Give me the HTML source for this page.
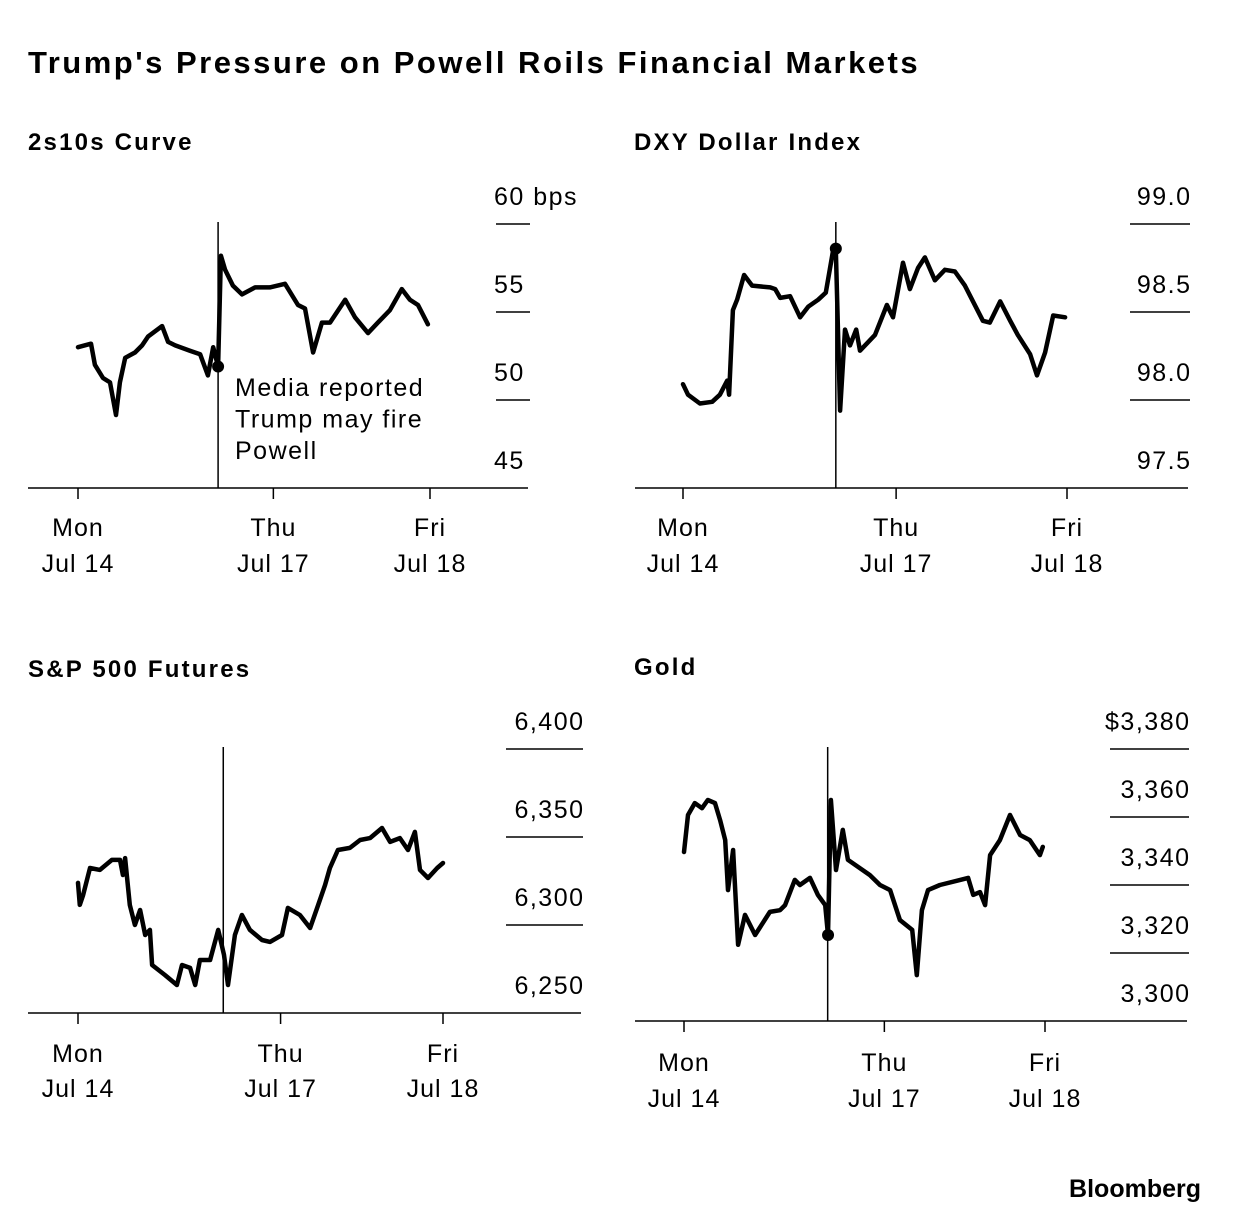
<!DOCTYPE html>
<html><head><meta charset="utf-8"><style>
html,body{margin:0;padding:0;background:#fff;}
svg{display:block;font-family:"Liberation Sans",Arial,sans-serif;}
</style></head><body>
<svg id="chart" width="1240" height="1232" viewBox="0 0 1240 1232" xmlns="http://www.w3.org/2000/svg">
<text x="28" y="73" font-size="31" font-weight="bold" letter-spacing="2.5" fill="#000">Trump's Pressure on Powell Roils Financial Markets</text>
<text x="1201" y="1197" font-size="25" font-weight="bold" text-anchor="end" fill="#000">Bloomberg</text>
</svg>
<script>
// Shared time axis: 0 = Mon Jul 14 tick, 100 = Fri Jul 18 tick
const dayLabels = ["Mon", "Thu", "Fri"];
const dateLabels = ["Jul 14", "Jul 17", "Jul 18"];
const dayTimes = [0, 55.5, 100];
const eventTime = 39.8;

const curveT = [0,3.7,4.8,7.1,9.1,10.8,11.9,13.4,16.2,18.2,19.9,23.9,25.6,27.6,31.8,34.7,36.9,38.4,39.8,40.6,41.8,44.0,46.6,50.3,54.5,58.8,62.5,64.5,66.8,69.3,71.6,75.9,78.7,82.4,85.2,88.6,92.0,94.3,96.6,99.4];
const curveV = [53.0,53.2,52.0,51.25,51.0,49.15,51.0,52.4,52.7,53.1,53.6,54.2,53.3,53.1,52.8,52.6,51.4,53.0,51.9,58.2,57.4,56.5,56.0,56.4,56.4,56.6,55.4,55.2,52.7,54.4,54.4,55.7,54.7,53.8,54.4,55.1,56.3,55.7,55.4,54.3];
const curveTicks = [60,55,50,45];
const curveTickLabels = ["60 bps","55","50","45"];

const dxyT = [0,1.3,4.4,7.6,9.6,11.5,12.0,13.0,14.1,15.9,18.0,22.7,24.0,25.3,27.9,30.5,32.6,35.2,37.2,39.1,39.8,40.9,42.2,43.5,45.1,46.1,50.0,53.1,54.7,57.3,59.1,61.2,63.0,65.6,68.2,70.8,73.4,78.1,79.9,82.6,85.2,87.2,90.4,92.2,94.3,96.4,99.5];
const dxyV = [98.09,98.03,97.98,97.99,98.03,98.11,98.03,98.51,98.57,98.71,98.65,98.64,98.63,98.58,98.59,98.47,98.53,98.57,98.61,98.85,98.86,97.94,98.40,98.31,98.40,98.28,98.37,98.54,98.47,98.78,98.63,98.75,98.81,98.68,98.74,98.73,98.65,98.45,98.44,98.56,98.45,98.37,98.26,98.14,98.27,98.48,98.47];
const dxyTicks = [99.0,98.5,98.0,97.5];
const dxyTickLabels = ["99.0","98.5","98.0","97.5"];

const spxT = [0,0.5,1.4,3.3,6.0,9.3,11.5,12.3,12.9,14.2,15.6,17.0,18.4,19.7,20.3,23.8,27.1,28.5,30.7,32.1,33.4,36.2,38.4,40.0,41.1,43.0,44.9,47.1,50.4,52.6,55.9,57.5,60.8,63.6,65.8,67.7,69.0,71.2,74.5,77.3,80.0,83.3,85.5,88.2,90.4,92.3,93.7,95.9,98.4,100];
const spxV = [6323.9,6311.4,6317,6332.4,6331.3,6337,6337,6328.4,6338,6311.4,6300,6308.5,6294.3,6297.2,6277.3,6271.6,6265.9,6277.3,6275.6,6265.9,6280.1,6280.1,6297.2,6283,6265.9,6294.3,6305.7,6297.2,6291.5,6290.4,6294.3,6309.7,6305.7,6298.3,6311.4,6322.8,6332.4,6342.6,6343.8,6348.3,6349.4,6355.1,6347.2,6349.4,6342.6,6352.9,6331.3,6326.7,6332.4,6335.2];
const spxTicks = [6400,6350,6300,6250];
const spxTickLabels = ["6,400","6,350","6,300","6,250"];

const goldT = [0,1.1,3.0,5.0,6.6,8.6,10.0,11.4,12.2,13.6,15.0,16.9,19.7,23.8,26.6,28.0,30.7,32.1,34.9,37.1,39.1,39.9,40.7,42.1,44.0,45.4,51.5,54.3,57.1,59.8,63.2,64.5,65.9,67.6,70.9,76.5,78.7,80.1,82.0,83.4,84.8,87.5,90.3,93.1,95.8,98.6,99.4];
const goldV = [3349.7,3360.6,3364.1,3362.6,3365,3364.1,3359.1,3353.2,3338.5,3350.3,3322.4,3331.2,3325.3,3332.1,3332.6,3334.1,3341.5,3340,3342.1,3337.1,3334.1,3325.3,3365,3344.4,3356.2,3347.4,3342.9,3340,3338.5,3329.7,3326.8,3313.5,3332.6,3338.5,3340,3341.5,3342.1,3337.1,3337.9,3334.1,3348.8,3353.2,3360.6,3354.7,3353.2,3348.8,3351.2];
const goldTicks = [3380,3360,3340,3320,3300];
const goldTickLabels = ["$3,380","3,360","3,340","3,320","3,300"];

const NS = "http://www.w3.org/2000/svg";
const svg = document.getElementById("chart");
function mk(tag, attrs, parent, text) {
  const e = document.createElementNS(NS, tag);
  for (const k in attrs) e.setAttribute(k, attrs[k]);
  if (text !== undefined) e.textContent = text;
  (parent || svg).appendChild(e);
  return e;
}

const panels = [
  {key:"curve", title:"2s10s Curve", tx:28, ty:150, ax0:28, ax1:528, axisY:488, mon:78, fri:430,
   top:224, vTop:60, vBot:45, ts:curveT, vs:curveV, ticks:curveTicks, tl:curveTickLabels,
   gx0:496, gx1:530, lx:494, anchor:"start", lblY1:536, lblY2:572, dot:"event"},
  {key:"dxy", title:"DXY Dollar Index", tx:634, ty:150, ax0:635, ax1:1188, axisY:488, mon:683, fri:1067,
   top:224, vTop:99.0, vBot:97.5, ts:dxyT, vs:dxyV, ticks:dxyTicks, tl:dxyTickLabels,
   gx0:1130, gx1:1190, lx:1191.5, anchor:"end", lblY1:536, lblY2:572, dot:"event"},
  {key:"spx", title:"S&P 500 Futures", tx:28, ty:677, ax0:28, ax1:581, axisY:1013, mon:78, fri:443,
   top:749, vTop:6400, vBot:6250, ts:spxT, vs:spxV, ticks:spxTicks, tl:spxTickLabels,
   gx0:506, gx1:583, lx:584.5, anchor:"end", lblY1:1062, lblY2:1097, dot:null},
  {key:"gold", title:"Gold", tx:634, ty:675, ax0:635, ax1:1187, axisY:1021, mon:684, fri:1045,
   top:749, vTop:3380, vBot:3300, ts:goldT, vs:goldV, ticks:goldTicks, tl:goldTickLabels,
   gx0:1110, gx1:1189, lx:1190.5, anchor:"end", lblY1:1071, lblY2:1107, dot:"event"}
];

panels.forEach(p => {
  const g = mk("g", {});
  
  
  const xS = t => p.mon + (p.fri - p.mon) * t / 100;
  const yS = v => p.top + (p.vTop - v) / (p.vTop - p.vBot) * (p.axisY - p.top);

  const title = mk("text", {x:p.tx, y:p.ty, "font-size":24, "font-weight":"bold", "letter-spacing":2.2, fill:"#000"}, g, p.title);
  
  

  p.ticks.forEach((v, i) => {
    const y = yS(v);
    if (Math.abs(y - p.axisY) > 2) {
      const gl = mk("line", {x1:p.gx0, x2:p.gx1, y1:y, y2:y, stroke:"#000", "stroke-width":1.5}, g);
      
      
    }
    const lb = mk("text", {x:p.lx, y:y - 19, "font-size":25, "letter-spacing":1.5, "text-anchor":p.anchor, fill:"#000"}, g, p.tl[i]);
    
    
  });

  const ax = mk("line", {x1:p.ax0, x2:p.ax1, y1:p.axisY, y2:p.axisY, stroke:"#000", "stroke-width":1.5}, g);
  
  

  dayTimes.forEach((t, i) => {
    const x = xS(t);
    const tk = mk("line", {x1:x, x2:x, y1:p.axisY, y2:p.axisY + 11, stroke:"#000", "stroke-width":1.5}, g);
    
    
    const l1 = mk("text", {x:x, y:p.lblY1, "font-size":25, "letter-spacing":1, "text-anchor":"middle", fill:"#000"}, g, dayLabels[i]);
    
    
    const l2 = mk("text", {x:x, y:p.lblY2, "font-size":25, "letter-spacing":1, "text-anchor":"middle", fill:"#000"}, g, dateLabels[i]);
    
    
  });

  const ex = xS(eventTime);
  const ev = mk("line", {x1:ex, x2:ex, y1:p.top - 2, y2:p.axisY, stroke:"#000", "stroke-width":1.5}, g);
  
  

  const pts = p.ts.map((t, i) => xS(t).toFixed(1) + "," + yS(p.vs[i]).toFixed(1)).join(" ");
  const ln = mk("polyline", {points:pts, fill:"none", stroke:"#000", "stroke-width":4.5, "stroke-linejoin":"round", "stroke-linecap":"round"}, g);
  
  

  if (p.dot) {
    let idx = 0, best = 1e9;
    p.ts.forEach((t, i) => { if (Math.abs(t - eventTime) < best) { best = Math.abs(t - eventTime); idx = i; } });
    const c = mk("circle", {cx:xS(p.ts[idx]), cy:yS(p.vs[idx]), r:6, fill:"#000"}, g);
    
    
  }
});

const ann = ["Media reported", "Trump may fire", "Powell"];
ann.forEach((s, i) => {
  const t = mk("text", {x:235, y:396 + i * 31.5, "font-size":25, "letter-spacing":1.5, fill:"#000"}, svg, s);
  
  
});
</script>
</body></html>
